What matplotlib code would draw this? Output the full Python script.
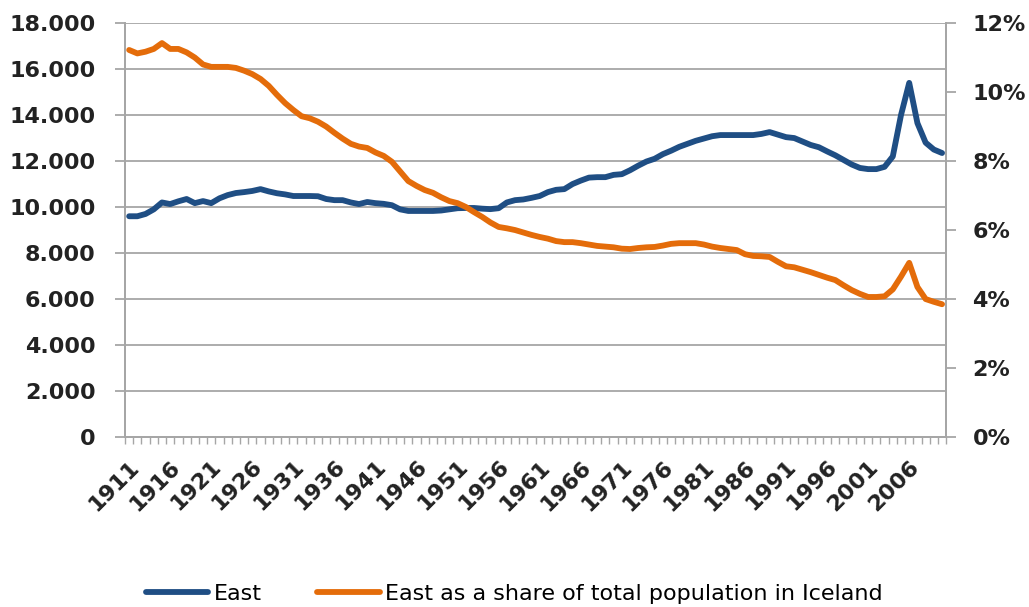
"""East region of Iceland: population and share of total population."""
import numpy as np
import matplotlib.pyplot as plt
from matplotlib.ticker import FuncFormatter

years = list(range(1911, 2011))

east = [
    9600, 9600, 9700, 9900, 10200, 10130, 10250, 10350, 10170, 10260,
    10170, 10380, 10520, 10610, 10650, 10700, 10780, 10680, 10600, 10550,
    10480, 10480, 10480, 10470, 10350, 10300, 10300, 10200, 10130, 10220,
    10170, 10140, 10080, 9900, 9830, 9830, 9830, 9830, 9850, 9900,
    9950, 9960, 9960, 9930, 9910, 9950, 10200, 10300, 10330, 10400,
    10480, 10650, 10750, 10780, 11000, 11150, 11280, 11300, 11300, 11400,
    11430, 11600, 11800, 11980, 12100, 12300, 12450, 12620, 12750, 12880,
    12980, 13080, 13130, 13130, 13130, 13130, 13130, 13180, 13260, 13150,
    13040, 13000, 12850, 12700, 12600, 12420, 12250, 12050, 11850, 11700,
    11650, 11650, 11750, 12200, 14000, 15400, 13650, 12800, 12500, 12350,
]

share = [
    11.22, 11.12, 11.17, 11.25, 11.42, 11.25, 11.25, 11.15, 11.00, 10.80,
    10.73, 10.73, 10.73, 10.70, 10.62, 10.52, 10.38, 10.18, 9.92, 9.68,
    9.48, 9.30, 9.24, 9.14, 9.00, 8.82, 8.65, 8.50, 8.42, 8.38,
    8.25, 8.15, 7.98, 7.70, 7.42, 7.28, 7.16, 7.08, 6.95, 6.84,
    6.78, 6.67, 6.52, 6.38, 6.22, 6.09, 6.05, 6.00, 5.93, 5.86,
    5.80, 5.75, 5.68, 5.65, 5.65, 5.62, 5.58, 5.54, 5.52, 5.50,
    5.46, 5.45, 5.48, 5.50, 5.51, 5.55, 5.60, 5.62, 5.62, 5.62,
    5.58, 5.52, 5.48, 5.45, 5.42, 5.30, 5.25, 5.24, 5.22, 5.08,
    4.95, 4.92, 4.85, 4.78, 4.70, 4.62, 4.55, 4.40, 4.26, 4.15,
    4.06, 4.06, 4.08, 4.28, 4.65, 5.05, 4.35, 4.00, 3.92, 3.85,
]

labels = ["East", "East as a share of total population in Iceland"]

BLUE = "#1f4e84"
ORANGE = "#e46c0a"
GRID = "#a6a6a6"


def main():
    fig = plt.figure(figsize=(10.29, 6.07), dpi=100)
    ax = fig.add_axes([0.1215, 0.280, 0.798, 0.682])
    ax2 = ax.twinx()

    l1, = ax.plot(years, east, color=BLUE, lw=4.2, solid_capstyle="round",
                  label=labels[0], zorder=3)
    l2, = ax2.plot(years, [s / 100 for s in share], color=ORANGE, lw=4.2,
                   solid_capstyle="round", label=labels[1])

    # left axis
    ax.set_ylim(0, 18000)
    ax.set_yticks(np.arange(0, 18001, 2000))
    ax.yaxis.set_major_formatter(
        FuncFormatter(lambda v, p: f"{int(v):,}".replace(",", ".")))
    ax.grid(axis="y", color=GRID, lw=1.3)
    ax.set_axisbelow(True)

    # right axis
    ax2.set_ylim(0, 0.12)
    ax2.set_yticks(np.arange(0, 0.121, 0.02))
    ax2.yaxis.set_major_formatter(FuncFormatter(lambda v, p: f"{v:.0%}"))

    # category style x axis, label every 5th year
    ax.set_xlim(1910.5, 2010.5)
    ax.set_xticks(years[::5])
    ax.set_xticklabels([str(y) for y in years[::5]], rotation=45,
                       ha="right", rotation_mode="anchor")
    ax.set_xticks(np.arange(1910.5, 2011, 1), minor=True)
    ax.tick_params(axis="x", which="major", length=0, pad=14)
    ax.tick_params(axis="x", which="minor", length=5, width=1, color=GRID)

    for a in (ax, ax2):
        a.spines["top"].set_visible(False)
        for side in ("left", "right", "bottom"):
            a.spines[side].set_color(GRID)
            a.spines[side].set_linewidth(1.3)
        a.tick_params(axis="y", length=7, width=1.3, color=GRID)
        for t in a.get_yticklabels() + a.get_xticklabels():
            t.set_fontweight("bold")
            t.set_fontsize(16)
            t.set_color("#222222")
    ax.tick_params(axis="y", pad=14)
    ax2.tick_params(axis="y", pad=12)

    fig.legend([l1, l2], labels, loc="center", ncol=2,
               bbox_to_anchor=(0.5, 0.022), frameon=False,
               handlelength=2.8, handletextpad=0.25, columnspacing=2.5,
               prop={"family": "DejaVu Sans", "size": 16})

    fig.savefig("out.png", dpi=100)


if __name__ == "__main__":
    main()
